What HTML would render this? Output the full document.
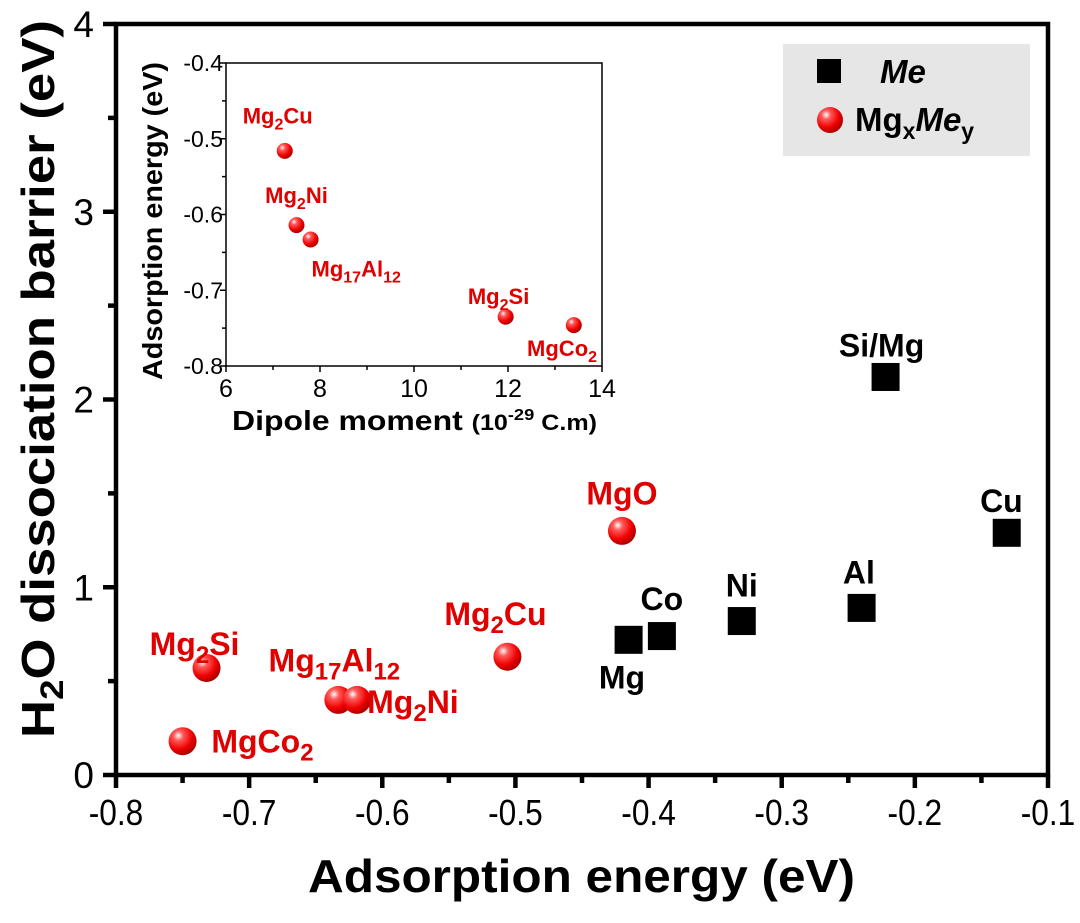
<!DOCTYPE html>
<html><head><meta charset="utf-8"><style>
body{margin:0;background:#fff;width:1080px;height:918px;overflow:hidden}
svg{font-family:"Liberation Sans",Arial,sans-serif}
</style></head><body>
<svg id="chart" width="1080" height="918">
<g id="main"></g><g id="inset"></g>
</svg>
<script>
const meNames=["Mg","Co","Ni","Al","Si/Mg","Cu"];
const meX=[-0.415,-0.39,-0.33,-0.24,-0.222,-0.131];
const meY=[0.72,0.74,0.82,0.89,2.12,1.29];
const alloyNames=["MgO","Mg2Cu","Mg17Al12","Mg17Al12b","Mg2Si","MgCo2"];
const alloyX=[-0.42,-0.506,-0.633,-0.619,-0.732,-0.75];
const alloyY=[1.30,0.63,0.40,0.40,0.57,0.18];
const xTicks=[-0.8,-0.7,-0.6,-0.5,-0.4,-0.3,-0.2,-0.1];
const yTicks=[0,1,2,3,4];
const insetNames=["Mg2Cu","Mg2Ni","Mg17Al12","Mg2Si","MgCo2"];
const insetX=[7.25,7.5,7.8,11.95,13.4];
const insetY=[-0.516,-0.614,-0.633,-0.735,-0.746];
const insetXTicks=[6,8,10,12,14];
const insetYTicks=[-0.4,-0.5,-0.6,-0.7,-0.8];

const NS="http://www.w3.org/2000/svg";
function mk(t,a,p,txt){const e=document.createElementNS(NS,t);for(const k in a)e.setAttribute(k,a[k]);if(txt!==undefined)e.innerHTML=txt;p.appendChild(e);return e;}
const svg=document.getElementById('chart');
const defs=mk('defs',{},svg);
defs.innerHTML='<radialGradient id="ball" cx="0.35" cy="0.3" r="0.7"><stop offset="0" stop-color="#fff"/><stop offset="0.25" stop-color="#ff5a5a"/><stop offset="0.7" stop-color="#ee0000"/><stop offset="1" stop-color="#b00000"/></radialGradient>';
const M=document.getElementById('main');
const L=116,R=1048,T=24,B=775;
const X=v=>L+(v+0.8)/0.7*(R-L), Y=v=>B-v/4*(B-T);
let f=mk('rect',{x:L,y:T,width:R-L,height:B-T,fill:'none',stroke:'#000','stroke-width':4.5},M);

xTicks.forEach(v=>{
  mk('line',{x1:X(v),x2:X(v),y1:B,y2:B+13,stroke:'#000','stroke-width':4.5},M);
  const t=mk('text',{x:X(v),y:B+50,'text-anchor':'middle','font-size':36,fill:'#000',transform:`translate(${X(v)*0.12},0) scale(0.88,1)`},M,v.toFixed(1));
  
});
for(let i=0;i<7;i++){const v=xTicks[i]+0.05;mk('line',{x1:X(v),x2:X(v),y1:B,y2:B+8,stroke:'#000','stroke-width':4.5},M);}
yTicks.forEach(v=>{
  mk('line',{x1:L-13,x2:L,y1:Y(v),y2:Y(v),stroke:'#000','stroke-width':4.5},M);
  const t=mk('text',{x:L-22,y:Y(v)+13,'text-anchor':'end','font-size':37,fill:'#000'},M,v);
  
});
for(let i=0;i<4;i++){const v=yTicks[i]+0.5;mk('line',{x1:L-8,x2:L,y1:Y(v),y2:Y(v),stroke:'#000','stroke-width':4.5},M);}
let xt=mk('text',{x:308,y:892,'font-size':46,'font-weight':'bold',textLength:547,lengthAdjust:'spacingAndGlyphs'},M,'Adsorption energy (eV)');

let yt=mk('text',{transform:'translate(54,738) rotate(-90)','font-size':46,'font-weight':'bold',textLength:718,lengthAdjust:'spacingAndGlyphs'},M,'H<tspan font-size="32" dy="9">2</tspan><tspan dy="-9">O dissociation barrier (eV)</tspan>');

const meLab={"Mg":[-0.42,0.46],"Co":[-0.39,0.88],"Ni":[-0.33,0.95],"Al":[-0.242,1.02],"Si/Mg":[-0.225,2.23],"Cu":[-0.135,1.4]};
meX.forEach((v,i)=>{
  const r=mk('rect',{x:X(v)-14,y:Y(meY[i])-14,width:28,height:28,fill:'#000'},M);
  
  const l=meLab[meNames[i]];
  const t=mk('text',{x:X(l[0]),y:Y(l[1]),'text-anchor':'middle','font-size':32,'font-weight':'bold'},M,meNames[i]);
  
});
const sub=(a,b,c)=>a+'<tspan font-size="24" dy="8">'+b+'</tspan><tspan dy="-8">'+c+'</tspan>';
const alLab={"MgO":[-0.42,1.44,'MgO'],"Mg2Cu":[-0.515,0.8,sub('Mg','2','Cu')],"Mg17Al12":[-0.636,0.55,sub('Mg','17','Al')+'<tspan font-size="24" dy="8">12</tspan>'],"Mg2Si":[-0.741,0.64,sub('Mg','2','Si')],"MgCo2":[-0.69,0.12,'MgCo<tspan font-size="24" dy="8">2</tspan>'],"Mg2Ni":[-0.577,0.33,sub('Mg','2','Ni')]};
alloyX.forEach((v,i)=>{
  const c=mk('circle',{cx:X(v),cy:Y(alloyY[i]),r:14,fill:'url(#ball)'},M);
  
});
Object.keys(alLab).forEach(k=>{const l=alLab[k];
  const t=mk('text',{x:X(l[0]),y:Y(l[1]),'text-anchor':'middle','font-size':32,'font-weight':'bold',fill:'#e00000'},M,l[2]);
  
});
const lg=mk('g',{},M);
mk('rect',{x:783,y:44,width:247,height:112,fill:'#e6e6e6'},lg);
mk('rect',{x:817,y:59,width:24,height:24,fill:'#000'},lg);
mk('text',{x:880,y:83,'font-size':33,'font-weight':'bold','font-style':'italic'},lg,'Me');
mk('circle',{cx:830,cy:120,r:13,fill:'url(#ball)'},lg);
mk('text',{x:855,y:131,'font-size':33,'font-weight':'bold'},lg,'Mg<tspan font-size="23" dy="8">x</tspan><tspan dy="-8" font-style="italic">Me</tspan><tspan font-size="23" dy="8">y</tspan>');
const I=document.getElementById('inset');
const iL=226,iR=602,iT=63,iB=366;
const IX=v=>iL+(v-6)/8*(iR-iL), IY=v=>iT+(-0.4-v)/0.4*(iB-iT);
let fr=mk('rect',{x:iL,y:iT,width:iR-iL,height:iB-iT,fill:'#fff',stroke:'#000','stroke-width':1.5},I);

insetXTicks.forEach(v=>{mk('line',{x1:IX(v),x2:IX(v),y1:iB,y2:iB+6,stroke:'#000','stroke-width':1.5},I);
  const t=mk('text',{x:IX(v),y:iB+31,'text-anchor':'middle','font-size':25},I,v);
  });
for(let i=0;i<4;i++){const v=insetXTicks[i]+1;mk('line',{x1:IX(v),x2:IX(v),y1:iB,y2:iB+4,stroke:'#000','stroke-width':1.5},I);}
insetYTicks.forEach(v=>{mk('line',{x1:iL-6,x2:iL,y1:IY(v),y2:IY(v),stroke:'#000','stroke-width':1.5},I);
  const t=mk('text',{x:iL-3,y:IY(v)+8,'text-anchor':'end','font-size':23},I,v.toFixed(1));
  });
for(let i=0;i<4;i++){const v=insetYTicks[i]-0.05;mk('line',{x1:iL-4,x2:iL,y1:IY(v),y2:IY(v),stroke:'#000','stroke-width':1.5},I);}
let ixt=mk('text',{x:232,y:430,'font-size':28,'font-weight':'bold',textLength:365,lengthAdjust:'spacingAndGlyphs'},I,'Dipole moment <tspan font-size="22">(10</tspan><tspan font-size="16" dy="-10">-29</tspan><tspan font-size="22" dy="10"> C.m)</tspan>');

let iyt=mk('text',{transform:'translate(162,380) rotate(-90)','font-size':28,'font-weight':'bold',textLength:318,lengthAdjust:'spacingAndGlyphs'},I,'Adsorption energy (eV)');

const isub=(a,b,c)=>a+'<tspan font-size="16" dy="6">'+b+'</tspan><tspan dy="-6">'+c+'</tspan>';
const inLab=[[7.1,-0.48,isub('Mg','2','Cu')],[7.5,-0.585,isub('Mg','2','Ni')],[8.77,-0.682,isub('Mg','17','Al')+'<tspan font-size="16" dy="6">12</tspan>'],[11.8,-0.718,isub('Mg','2','Si')],[13.15,-0.787,'MgCo<tspan font-size="16" dy="6">2</tspan>']];
insetX.forEach((v,i)=>{
  const c=mk('circle',{cx:IX(v),cy:IY(insetY[i]),r:8,fill:'url(#ball)'},I);
  
  const l=inLab[i];
  const t=mk('text',{x:IX(l[0]),y:IY(l[1]),'text-anchor':'middle','font-size':22,'font-weight':'bold',fill:'#e00000'},I,l[2]);
  
});
</script>
</body></html>
